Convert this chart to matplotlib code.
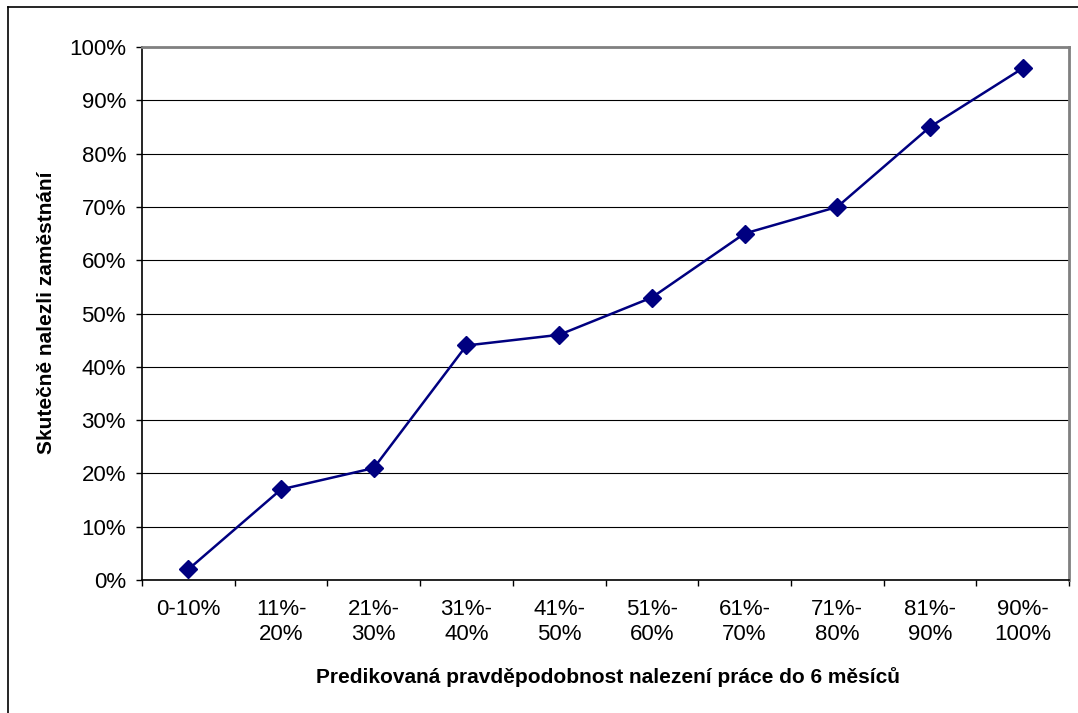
import matplotlib
matplotlib.use("Agg")
import matplotlib.pyplot as plt
from matplotlib.lines import Line2D
from matplotlib.ticker import FuncFormatter

plt.rcParams["font.family"] = ["Liberation Sans", "DejaVu Sans"]

categories = ["0-10%", "11%-\n20%", "21%-\n30%", "31%-\n40%", "41%-\n50%",
              "51%-\n60%", "61%-\n70%", "71%-\n80%", "81%-\n90%", "90%-\n100%"]
actual = [2, 17, 21, 44, 46, 53, 65, 70, 85, 96]

W, H = 1078, 713
fig = plt.figure(figsize=(W / 100, H / 100), dpi=100)
ax = fig.add_axes([142 / W, 1 - 580 / H, (1069 - 142) / W, (580 - 47) / H])

x = [i + 0.5 for i in range(len(actual))]
ax.plot(x, actual, color="#000080", linewidth=1.8, marker="D",
        markersize=9, markerfacecolor="#000080", markeredgecolor="#000080",
        zorder=3, clip_on=False)

ax.set_xlim(0, len(actual))
ax.set_ylim(0, 100)
ax.set_yticks(range(0, 101, 10))
ax.yaxis.set_major_formatter(FuncFormatter(lambda v, _: f"{int(v)}%"))
ax.set_xticks(range(len(actual) + 1))
ax.set_xticklabels([])
ax.set_xticks(x, minor=True)
ax.set_xticklabels(categories, minor=True)
ax.tick_params(axis="x", which="minor", length=0, pad=14, labelsize=16)
ax.tick_params(axis="x", which="major", length=4.5, width=1, direction="out")
ax.tick_params(axis="y", length=4.5, width=1, direction="out", labelsize=16, pad=7)

ax.grid(axis="y", color="black", linewidth=0.8)
ax.set_axisbelow(True)
for s in ["top", "right"]:
    ax.spines[s].set_color("#808080")
    ax.spines[s].set_linewidth(2)
for s in ["left", "bottom"]:
    ax.spines[s].set_color("black")
    ax.spines[s].set_linewidth(1.2)

fig.text(47 / W, 1 - 313 / H, "Skutečně nalezli zaměstnání", rotation=90,
         ha="center", va="center", fontsize=15, fontweight="bold")
fig.text(608 / W, 1 - 677 / H, "Predikovaná pravděpodobnost nalezení práce do 6 měsíců",
         ha="center", va="center", fontsize=15, fontweight="bold")

# outer chart frame
fig.add_artist(Line2D([8 / W, 1], [1 - 7 / H, 1 - 7 / H], color="black", linewidth=1.2))
fig.add_artist(Line2D([8 / W, 8 / W], [0, 1 - 7 / H], color="black", linewidth=1.2))

fig.savefig("out.png", dpi=100)
